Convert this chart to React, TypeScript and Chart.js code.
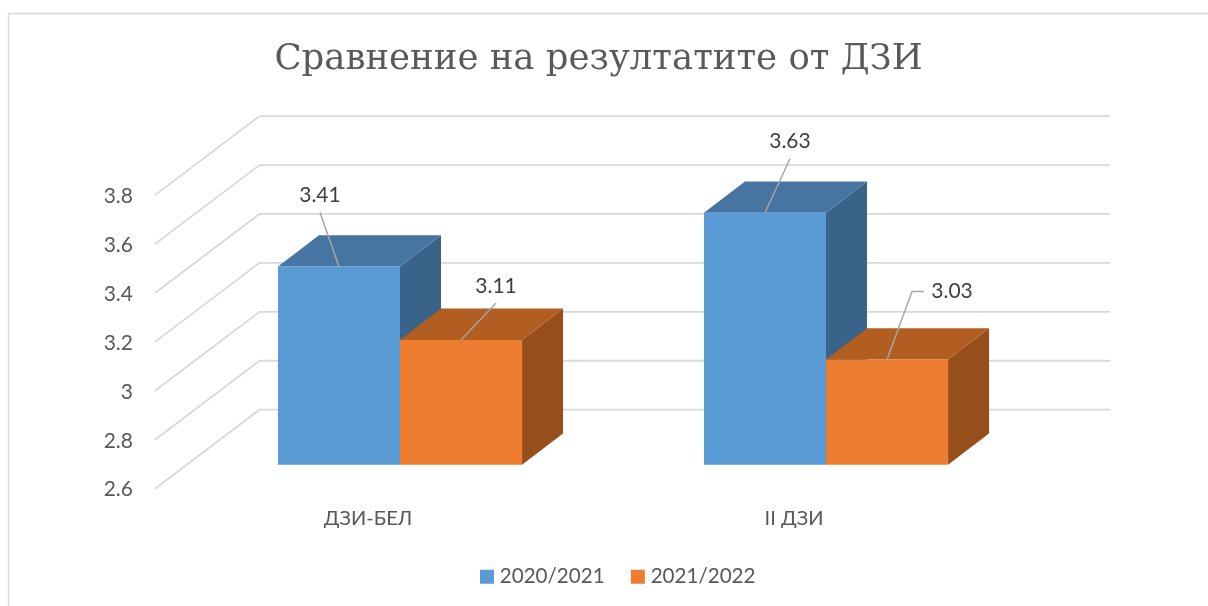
import { useEffect, useRef } from "react";
import { Chart, registerables } from "chart.js";

Chart.register(...registerables);

const chartTitle = "Сравнение на резултатите от ДЗИ";
const categories = ["ДЗИ-БЕЛ", "II ДЗИ"];
const seriesNames = ["2020/2021", "2021/2022"];
const values2021 = [3.41, 3.63];
const values2022 = [3.11, 3.03];
const axisMin = 2.6;
const axisMax = 3.8;
const axisStep = 0.2;

const FRONT = ["#5B9BD5", "#ED7D31"];
const TOP = ["#4675A2", "#B25D22"];
const SIDE = ["#396388", "#964E1B"];
const GRID = "#D9D9D9";
const TEXT = "#595959";
const LABEL_TEXT = "#404040";
const LEADER = "#A6A6A6";
const FONT = "Lato, 'Noto Sans', sans-serif";

// Projection of the floor depth on screen
const WALL_DX = 104.5;
const WALL_DY = -79;
const WALL_RIGHT_DX = 103;
const BAR_SHIFT_X = 32;
const BAR_SHIFT_Y = -24;
const BAR_DX = 41;
const BAR_DY = -31.3;
const LEGEND_SHIFT = 21.5;

// Data-label offset from the top-front centre of each bar: [dataset][index]
const labelOffsets = [
  [{ x: -19, y: -71, leader: [[-19, -54]] }, { x: 25, y: -71, leader: [[25, -54]] }],
  [{ x: 35, y: -54, leader: [[35, -37]] }, { x: 65, y: -68, leader: [[25, -68], [37, -68]] }],
];

const threeD = {
  id: "threeD",
  afterLayout(chart: any) {
    chart.legend.left += LEGEND_SHIFT;
    chart.legend.right += LEGEND_SHIFT;
  },
  beforeDraw(chart: any) {
    const { ctx } = chart;
    ctx.save();
    ctx.strokeStyle = GRID;
    ctx.lineWidth = 1.5;
    ctx.beginPath();
    ctx.moveTo(8.5, 606);
    ctx.lineTo(8.5, 13.5);
    ctx.lineTo(1208, 13.5);
    ctx.stroke();
    ctx.restore();
  },
  beforeDatasetsDraw(chart: any) {
    const { ctx, chartArea } = chart;
    const y = chart.scales.y;
    ctx.save();
    ctx.strokeStyle = GRID;
    ctx.lineWidth = 1.8;
    y.ticks.forEach((t: any) => {
      const py = y.getPixelForValue(t.value);
      ctx.beginPath();
      ctx.moveTo(chartArea.left, py);
      ctx.lineTo(chartArea.left + WALL_DX, py + WALL_DY);
      ctx.lineTo(chartArea.right + WALL_RIGHT_DX, py + WALL_DY);
      ctx.stroke();
    });
    ctx.restore();

    ctx.save();
    ctx.translate(BAR_SHIFT_X, BAR_SHIFT_Y);
    chart.data.datasets.forEach((_: any, di: number) => {
      chart.getDatasetMeta(di).data.forEach((bar: any) => {
        const l = bar.x - bar.width / 2;
        const r = bar.x + bar.width / 2;
        ctx.fillStyle = SIDE[di];
        ctx.beginPath();
        ctx.moveTo(r, bar.y);
        ctx.lineTo(r + BAR_DX, bar.y + BAR_DY);
        ctx.lineTo(r + BAR_DX, bar.base + BAR_DY);
        ctx.lineTo(r, bar.base);
        ctx.closePath();
        ctx.fill();
        ctx.fillStyle = TOP[di];
        ctx.beginPath();
        ctx.moveTo(l, bar.y);
        ctx.lineTo(l + BAR_DX, bar.y + BAR_DY);
        ctx.lineTo(r + BAR_DX, bar.y + BAR_DY);
        ctx.lineTo(r, bar.y);
        ctx.closePath();
        ctx.fill();
      });
    });
  },
  afterDatasetsDraw(chart: any) {
    const { ctx } = chart;
    ctx.restore();
    ctx.save();
    ctx.font = `21px ${FONT}`;
    ctx.textAlign = "center";
    ctx.textBaseline = "middle";
    chart.data.datasets.forEach((ds: any, di: number) => {
      chart.getDatasetMeta(di).data.forEach((bar: any, i: number) => {
        const ax = bar.x + BAR_SHIFT_X;
        const ay = bar.y + BAR_SHIFT_Y;
        const o = labelOffsets[di][i];
        ctx.strokeStyle = LEADER;
        ctx.lineWidth = 1.5;
        ctx.beginPath();
        ctx.moveTo(ax, ay);
        o.leader.forEach(([dx, dy]: number[]) => ctx.lineTo(ax + dx, ay + dy));
        ctx.stroke();
        ctx.fillStyle = LABEL_TEXT;
        ctx.fillText(String(ds.data[i]), ax + o.x, ay + o.y);
      });
    });
    ctx.restore();
  },
};

export default function App() {
  const ref = useRef<HTMLCanvasElement>(null);
  useEffect(() => {
    document.body.style.margin = "0";
    const chart = new Chart(ref.current!, {
      type: "bar",
      data: {
        labels: categories,
        datasets: [
          { label: seriesNames[0], data: values2021, backgroundColor: FRONT[0], yAxisID: "y", clip: false, base: axisMin },
          { label: seriesNames[1], data: values2022, backgroundColor: FRONT[1], yAxisID: "y", clip: false, base: axisMin },
        ],
      },
      options: {
        responsive: false,
        animation: false,
        layout: { padding: { left: 0, right: 11, top: 0, bottom: 9 } },
        datasets: { bar: { barPercentage: 1, categoryPercentage: 0.573 } },
        plugins: {
          tooltip: { enabled: false },
          title: {
            display: true,
            text: chartTitle,
            color: TEXT,
            font: { family: "'DejaVu Serif', serif", size: 35.5, weight: "normal" },
            padding: { top: 38, bottom: 114.5 },
          },
          legend: {
            display: true,
            position: "bottom",
            labels: {
              usePointStyle: true,
              pointStyle: "rect",
              boxWidth: 5,
              boxHeight: 14,
              color: TEXT,
              padding: 30.7,
              font: { family: FONT, size: 20.6 },
            },
          },
        },
        scales: {
          x: {
            grid: { display: false },
            border: { display: false },
            ticks: { color: TEXT, padding: 10, font: { family: FONT, size: 20 } },
            afterFit(s: any) { s.height = 47; },
          },
          y: {
            min: axisMin,
            max: axisMax,
            grid: { display: false },
            border: { display: false },
            ticks: {
              stepSize: axisStep,
              color: TEXT,
              padding: 14,
              labelOffset: 1,
              font: { family: FONT, size: 21 },
              callback: (v: any) => String(Number(Number(v).toFixed(1))),
            },
            afterFit(s: any) { s.width = 155; },
          },
          yRight: {
            position: "right",
            display: true,
            min: axisMin,
            max: axisMax,
            grid: { display: false },
            border: { display: false },
            ticks: { display: false },
            afterFit(s: any) { s.width = 190; },
          },
        },
      },
      plugins: [threeD],
    } as any);
    return () => chart.destroy();
  }, []);
  return <canvas ref={ref} width={1208} height={606} style={{ display: "block" }} />;
}
